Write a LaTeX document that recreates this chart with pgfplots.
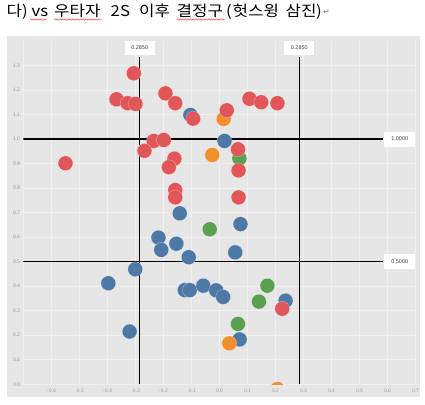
\documentclass[border=0pt]{standalone}
\usepackage{fontspec}
\setmainfont{Liberation Sans}
\newfontfamily\kr[FakeStretch=1.12]{Noto Sans CJK KR}
\newfontfamily\dv{DejaVu Sans}
\usepackage{pgfplots}
\pgfplotsset{compat=1.18}
\usetikzlibrary{decorations.pathmorphing}
\definecolor{tred}{HTML}{E15759}
\definecolor{tblue}{HTML}{4E79A7}
\definecolor{tgreen}{HTML}{59A14F}
\definecolor{torange}{HTML}{F28E2B}
\definecolor{panel}{HTML}{E6E6E6}
\definecolor{gridc}{HTML}{F0F0F0}
\definecolor{tickc}{HTML}{9A9A9A}
\pgfplotsset{dot/.style={only marks, mark=*, mark size=7.4pt, color=#1,
     mark options={fill=#1, draw=white, draw opacity=0.5, line width=0.3pt}}}
\begin{document}
\begin{tikzpicture}[x=1pt,y=1pt]
\useasboundingbox (0,0) rectangle (425,404);
\fill[white] (0,0) rectangle (425,404);
\fill[panel] (7,6.7) rectangle (420,368);
% title
\begin{scope}[every node/.style={anchor=base west, inner sep=0pt, font=\kr\fontsize{15}{15}\selectfont}]
\node at (6.5,387.5) {다) vs};
\node at (54,387.5) {우타자};
\node at (110.5,387.5) {2S};
\node at (139,387.5) {이후};
\node at (176.5,387.5) {결정구};
\node at (226,387.5) {(};
\node at (232.5,387.5) {헛스윙};
\node at (285.5,387.5) {삼진};
\node at (316,387.5) {)};
\end{scope}
\node[anchor=base west, inner sep=0pt, text=gray, font=\dv\fontsize{8}{8}\selectfont] at (323,389) {↵};
\begin{scope}[tred, line width=0.5pt, decoration={snake, amplitude=0.7pt, segment length=2.6pt}]
\draw[decorate] (30,384.5) -- (46.7,384.5);
\draw[decorate] (54,384.5) -- (101.7,384.5);
\draw[decorate] (176.7,384.5) -- (225,384.5);
\end{scope}
\begin{axis}[
  at={(23.5pt,19.7pt)}, anchor=south west,
  scale only axis, width=392pt, height=343.4pt,
  xmin=-0.7, xmax=0.7, ymin=0, ymax=1.4,
  axis line style={draw=none}, tick style={draw=none},
  grid=major, grid style={gridc, line width=0.6pt},
  xtick={-0.7,-0.6,-0.5,-0.4,-0.3,-0.2,-0.1,0,0.1,0.2,0.3,0.4,0.5,0.6,0.7},
  xticklabels={,-0.6,-0.5,-0.4,-0.3,-0.2,-0.1,0.0,0.1,0.2,0.3,0.4,0.5,0.6,0.7},
  ytick={0,0.1,0.2,0.3,0.4,0.5,0.6,0.7,0.8,0.9,1.0,1.1,1.2,1.3},
  yticklabels={0.0,0.1,0.2,0.3,0.4,0.5,0.6,0.7,0.8,0.9,1.0,1.1,1.2,1.3},
  ticklabel style={font=\fontsize{5}{6}\selectfont, text=tickc},
  xticklabel style={yshift=-1pt},
  clip marker paths=true,
]
% reference lines
\addplot[black, line width=1.3pt] coordinates {(-0.285,0) (-0.285,1.3355)};
\addplot[black, line width=1.3pt] coordinates {(0.285,0) (0.285,1.3355)};
\addplot[black, line width=1.3pt] coordinates {(-0.7,1) (0.585,1)};
\addplot[black, line width=1.3pt] coordinates {(-0.7,0.5) (0.585,0.5)};
% blue
\addplot[dot=tblue] coordinates {
(-0.104,1.098) (-0.142,0.697) (0.018,0.992) (0.075,0.653) (-0.218,0.598)
(-0.208,0.548) (-0.154,0.573) (-0.110,0.518) (-0.301,0.469) (-0.397,0.412)
(-0.124,0.384) (-0.106,0.384) (-0.058,0.402) (-0.012,0.383) (0.013,0.356)
(-0.321,0.215) (0.056,0.538) (0.236,0.341) (0.072,0.183)
};
% orange
\addplot[dot=torange] coordinates {
(0.015,1.082) (-0.026,0.935) (0.035,0.167)
};
% orange point just below the axis bottom (only its top shows)
\addplot[dot=torange, mark options={yshift=-5.2pt}] coordinates {(0.207,0)};
% green
\addplot[dot=tgreen] coordinates {
(0.071,0.921) (-0.035,0.632) (0.171,0.402) (0.141,0.337) (0.066,0.246)
};
% red
\addplot[dot=tred] coordinates {
(-0.306,1.268) (-0.368,1.162) (-0.328,1.146) (-0.300,1.143) (-0.193,1.186)
(-0.158,1.146) (-0.094,1.083) (-0.235,0.992) (-0.199,0.996) (-0.268,0.952)
(-0.550,0.901) (-0.161,0.920) (-0.181,0.885) (-0.158,0.792) (-0.158,0.762)
(0.107,1.164) (0.149,1.150) (0.207,1.146) (0.026,1.117) (0.066,0.958)
(0.068,0.872) (0.068,0.762) (0.224,0.308)
};
% labels
\begin{scope}[every node/.style={fill=white, inner sep=0pt, text=black!75, font=\fontsize{5.5}{6}\selectfont}]
\node[minimum width=30pt, minimum height=14pt] at (axis cs:-0.285,1.373) {0.2850};
\node[minimum width=30pt, minimum height=14pt] at (axis cs:0.285,1.373) {0.2850};
\node[minimum width=31pt, minimum height=15pt] at (axis cs:0.6436,1.0) {1.0000};
\node[minimum width=31pt, minimum height=15pt] at (axis cs:0.6436,0.5) {0.5000};
\end{scope}
\end{axis}
\end{tikzpicture}
\end{document}
